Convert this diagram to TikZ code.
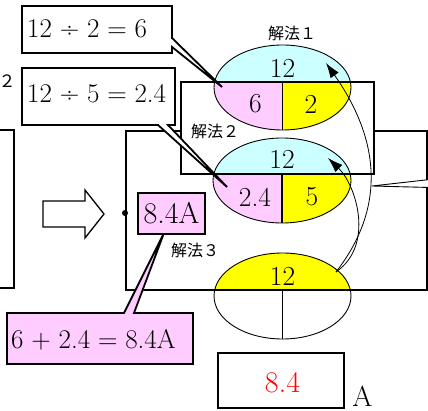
\documentclass[tikz,border=0pt]{standalone}
\usepackage{fontspec}
\newfontfamily\jp{Noto Sans CJK JP}
\usetikzlibrary{arrows.meta}
\definecolor{pinkA}{HTML}{FFCCFF}
\definecolor{cyanA}{HTML}{CCFFFF}
\definecolor{yellowA}{HTML}{FFFF00}
\newcommand\opsp[1]{\kern.29em#1\kern.29em}
\begin{document}
\begin{tikzpicture}[x=1pt,y=-1pt,
 box/.style={line width=1.8pt},
 frame/.style={line width=1.8pt},
 oval/.style={line width=0.9pt},
 divl/.style={line width=1.4pt},
 num/.style={font=\fontsize{27.5}{30}\selectfont, inner sep=0pt},
 eqt/.style={font=\fontsize{27}{30}\selectfont, inner sep=0pt},
 lab/.style={font=\jp\fontsize{16}{18}\selectfont, inner sep=0pt},
 curv/.style={line width=0.8pt, -{Latex[length=15pt,width=10pt]}}]
\useasboundingbox (0,0) rectangle (428,411);

% left partial frame
\draw[frame] (-2,130) -- (14,130) -- (14,288) -- (-2,288);
\node[lab, font=\jp\fontsize{17}{19}\selectfont] (two) at (7,81) {２};

% block arrow
\draw[line width=1.3pt, fill=white] (43,201) -- (85,201) -- (85,190) -- (104,214) -- (85,238) -- (85,227) -- (43,227) -- cycle;

% frame 3
\draw[frame, fill=white] (126,131) rectangle (427,290);
% wedge at right
\fill[white] (372,186) -- (430,179.5) -- (430,187.5) -- cycle;
\draw[line width=0.9pt] (430,179.5) -- (372,186) -- (430,187.5);
% frame 2
\draw[frame, fill=white] (181,82) rectangle (374,174);

\fill (125,213) circle (3);

% ellipse 1
\begin{scope}
\clip (282.5,87.5) ellipse [x radius=68.5, y radius=42.5];
\fill[cyanA] (200,40) rectangle (360,82);
\fill[pinkA] (200,82) rectangle (282.5,135);
\fill[yellowA] (282.5,82) rectangle (360,135);
\end{scope}
\draw[oval] (282.5,87.5) ellipse [x radius=68.5, y radius=42.5];
\draw[frame] (214,82) -- (351,82);
\draw[divl] (282.5,82) -- (282.5,130);

% ellipse 2
\begin{scope}
\clip (282,180.5) ellipse [x radius=69, y radius=42.5];
\fill[cyanA] (200,130) rectangle (360,174);
\fill[pinkA] (200,174) rectangle (282,230);
\fill[yellowA] (282,174) rectangle (360,230);
\end{scope}
\draw[oval] (282,180.5) ellipse [x radius=69, y radius=42.5];
\draw[frame] (213,174) -- (351,174);
\draw[divl] (282,174) -- (282,223);

% ellipse 3
\begin{scope}
\clip (282.5,296) ellipse [x radius=68.5, y radius=43];
\fill[yellowA] (200,245) rectangle (360,290);
\end{scope}
\draw[oval] (282.5,296) ellipse [x radius=68.5, y radius=43];
\draw[frame] (214,290) -- (351,290);
\draw[divl] (282.5,290) -- (282.5,339);

% ellipse numbers
\node[num] (e1t) at (282.5,68) {12};
\node[num] (e1l) at (255.5,104) {6};
\node[num] (e1r) at (311,104) {2};
\node[num] (e2t) at (282,159) {12};
\node[num] (e2l) at (255,197) {2.4};
\node[num] (e2r) at (312,197) {5};
\node[num] (e3t) at (282.5,276) {12};

% labels
\node[lab] (s1) at (292,33) {解法１};
\node[lab] (s2) at (215,131) {解法２};
\node[lab] (s3) at (195,250) {解法３};

% callout A
\draw[box, fill=white] (22,6) -- (172,6) -- (172,38) -- (222,87) -- (172,47) -- (172,53) -- (22,53) -- cycle;
\node[eqt, anchor=west] (ca) at (27,29) {12\opsp{÷}2\opsp{=}6};
% callout B
\draw[box, fill=white] (22,68) -- (175,68) -- (175,125) -- (168,125) -- (227,187) -- (158,125) -- (22,125) -- cycle;
\node[eqt, anchor=west] (cb) at (27,93.5) {12\opsp{÷}5\opsp{=}2.4};
% callout C
\draw[box, fill=pinkA] (7,313) -- (124,313) -- (164,233) -- (134,313) -- (193,313) -- (193,364) -- (7,364) -- cycle;
\node[eqt, anchor=west] (cc) at (11,340) {6\opsp{+}2.4\opsp{=}8.4A};

% 8.4A box
\node[draw, box, fill=pinkA, minimum width=67pt, minimum height=41pt, inner sep=0pt,
      font=\fontsize{30}{32}\selectfont] (res) at (171.5,213.5) {8.4A};

% answer box
\node[draw, box, minimum width=126pt, minimum height=55pt, inner sep=0pt] (ans) at (281,380.5) {};
\node[num, text=red, font=\fontsize{30}{32}\selectfont] (ansv) at (282.5,383) {8.4};
\node[inner sep=0pt, font=\fontsize{29}{30}\selectfont] (unit) at (362.5,396) {A};

% curved arrows
\coordinate (st) at (336,272);
\coordinate (t2) at (328,158);
\coordinate (t1) at (326,63);
\draw[curv] (st) .. controls (375,245) and (356,185) .. (t2);
\draw[curv] (st) .. controls (388,205) and (378,137) .. (t1);
\end{tikzpicture}
\end{document}
